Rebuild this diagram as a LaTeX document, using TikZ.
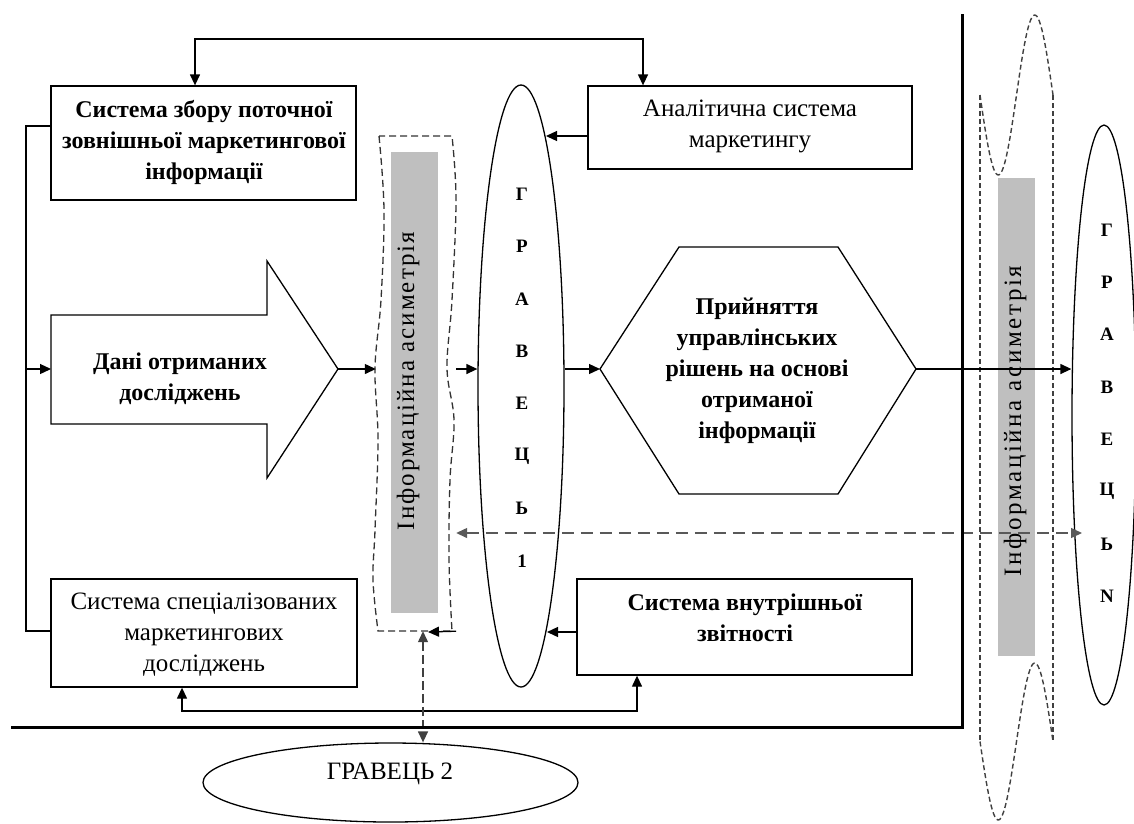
\documentclass[tikz,border=0pt]{standalone}
\usepackage{fontspec}
\setmainfont{Liberation Serif}
\usetikzlibrary{arrows.meta,shapes.geometric,calc}
\begin{document}
\begin{tikzpicture}[x=1pt,y=-1pt,
  ln/.style={line width=1.3pt},
  tip/.tip={Triangle[length=11pt,width=10pt]},
  arr/.style={ln,-tip},
  darr/.style={ln,tip-tip},
  boxn/.style={draw,ln,inner sep=0,rectangle},
  rtxt/.style={align=center,inner sep=0,font=\fontsize{25}{31}\selectfont},
  btxt/.style={align=center,inner sep=0,font=\fontsize{24}{31}\selectfont\bfseries},
  ltr/.style={inner sep=0,font=\fontsize{19}{19}\selectfont\bfseries},
  rot/.style={inner sep=0,font=\fontsize{25}{25}\selectfont\addfontfeature{LetterSpace=8}},
  rotb/.style={inner sep=0,font=\fontsize{25}{25}\selectfont\addfontfeature{LetterSpace=10.5}},
  barfill/.style={fill=black!25},
  dsh/.style={ln,dash pattern=on 7pt off 4pt,black!80},
  wv/.style={line width=1.4pt,dash pattern=on 5pt off 3pt,black!75},
  ell/.style={draw,ln,ellipse,inner sep=0}
]
\useasboundingbox (0,0) rectangle (1134,823);

% grey bars and rotated texts
\fill[barfill] (391,152) rectangle (438,613);
\fill[barfill] (998,178) rectangle (1035,656);
\node[rot,rotate=90] (ia1) at (408,381) {Інформаційна асиметрія};
\node[rotb,rotate=90] (ia2) at (1015,421) {Інформаційна асиметрія};

% boxes
\node[boxn,minimum width=305,minimum height=114] (b1) at (203.5,143) {};
\node[btxt] (b1t) at (204,142) {Система збору поточної\\зовнішньої маркетингової\\інформації};
\node[boxn,minimum width=324,minimum height=83] (b2) at (750,127.5) {};
\node[rtxt] (b2t) at (750,126) {Аналітична система\\маркетингу};
\node[boxn,minimum width=306,minimum height=108] (b3) at (204,633) {};
\node[rtxt] (b3t) at (204,635) {Система спеціалізованих\\маркетингових\\досліджень};
\node[boxn,minimum width=335,minimum height=96] (b4) at (744.5,627) {};
\node[btxt] (b4t) at (745,618) {Система внутрішньої\\звітності};

% big arrow shape
\draw[ln] (51,315) -- (267,315) -- (267,261) -- (338,369) coordinate (arTip)
  -- (267,478) -- (267,424) -- (51,424) -- cycle;
\coordinate (arW) at (51,369);
\node[btxt] (art) at (180,379) {Дані отриманих\\досліджень};

% hexagon
\draw[ln] (600,369) coordinate (hexW) -- (679,247) -- (838,247) -- (916,369) coordinate (hexE)
  -- (838,494) -- (679,494) -- cycle;
\node[btxt] (hext) at (757,371) {Прийняття\\управлінських\\рішень на основі\\отриманої\\інформації};

% ellipses
\node[ell,minimum width=86,minimum height=602] (g1) at (521,386) {};
\foreach \l [count=\i from 0] in {Г,Р,А,В,Е,Ц,Ь,1}
  \node[ltr] (g1l\i) at (522,{194+52.4*\i}) {\l};
\node[ell,minimum width=64,minimum height=580] (gN) at (1104,415) {};
\foreach \l [count=\i from 0] in {Г,Р,А,В,Е,Ц,Ь,N}
  \node[ltr] (gNl\i) at (1107,{230+52.3*\i}) {\l};
\node[ell,minimum width=375,minimum height=79] (g2) at (390.5,782.5) {};
\node[rtxt] (g2t) at (390,774) {ГРАВЕЦЬ 2};

% left asymmetry dashed shape
\node[inner sep=0,minimum width=80,minimum height=495] (as) at (416,383.5) {};
\draw[dsh] plot[smooth,tension=0.6] coordinates {(379,136) (384,210) (381,300) (375,368) (378,440) (375,530) (373,580) (378,631)}
  -- plot[smooth,tension=0.6] coordinates {(452,631) (449,560) (450,480) (454,420) (447,368) (452,300) (456,200) (452,136)} -- cycle;

% right wave shape
\draw[wv] (980,95) -- (980,741.5);
\draw[wv] (1053,95) -- (1053,741.5);
\draw[wv] plot[domain=0:73,samples=60] ({980+\x},{95+80*sin(4.93151*\x)});
\draw[wv] plot[domain=0:73,samples=60] ({980+\x},{741.5+78.5*sin(4.93151*\x)});

% coordinates
\coordinate (t1) at (195,39);
\coordinate (t2) at (643,39);
\coordinate (lv1) at (26,126);
\coordinate (lv2) at (26,631);
\coordinate (lvm) at (26,369);
\coordinate (fl) at (0,369);
\coordinate (bl) at (182,711);
\coordinate (br) at (637,711);
\coordinate (dv) at (423,0);
\coordinate (dh) at (0,533);
\coordinate (dhR) at (1082,533);
\coordinate (y136) at (0,136);
\coordinate (y632) at (0,632);
\coordinate (g1a) at (546,136);
\coordinate (g1b) at (547,632);
\coordinate (smT) at (428,632);
\coordinate (fr1) at (11,727);
\coordinate (fr2) at (962,727);
\coordinate (fr3) at (962,14);

% connectors
\draw[darr] (b1.north -| t1) -- (t1) -- (t2) -- (b2.north -| t2);
\draw[arr] (b2.west |- y136) -- (g1a);
\draw[ln] (b1.west |- lv1) -- (lv1) -- (lv2) -- (b3.west |- lv2);
\draw[arr] (lvm) -- (arW);
\draw[arr] (arTip) -- (as.west |- fl);
\draw[arr] (as.east |- fl) -- (g1.west |- fl);
\draw[arr] (g1.east |- fl) -- (hexW);
\draw[arr] (hexE) -- (gN.west |- fl);
\draw[arr] (b4.west |- y632) -- (g1b);
\draw[arr] (as.south east) -- (smT);
\draw[darr] (b3.south -| bl) -- (bl) -- (br) -- (b4.south -| br);
\draw[darr,dash pattern=on 9pt off 4pt,black!75] (as.south -| dv) -- (g2.north -| dv);
\draw[darr,dash pattern=on 12pt off 7pt,black!65] (as.east |- dh) -- (dhR);
\draw[line width=3pt] (fr1) -- (fr2) -- (fr3);
\end{tikzpicture}
\end{document}
